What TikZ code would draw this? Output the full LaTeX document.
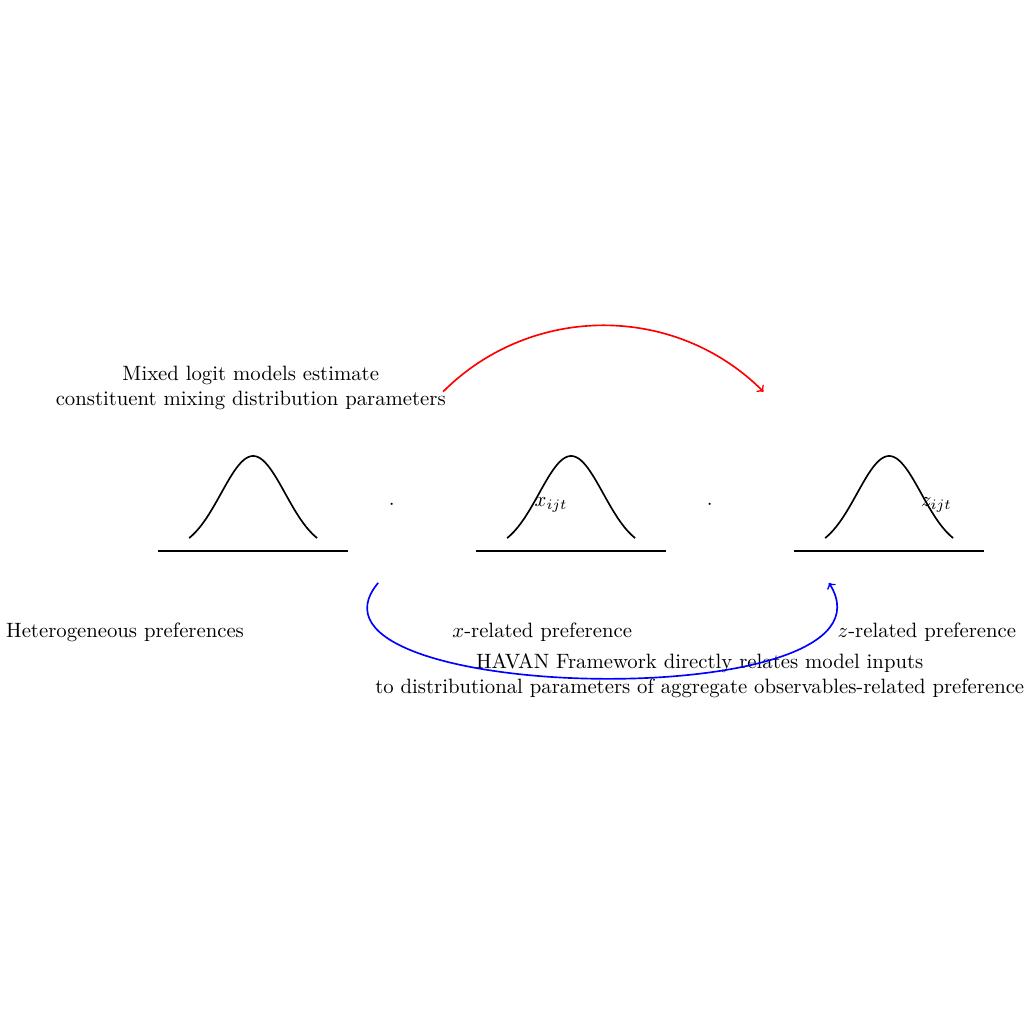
\documentclass[tikz,border=0pt]{standalone}
\usetikzlibrary{positioning, calc, arrows.meta}

\begin{document}
\begin{tikzpicture}[>=to]

% ------------------- styles -------------------
\tikzstyle{curve} = [thick, black, samples=60, smooth]
\tikzstyle{axisline} = [semithick, black]
\tikzstyle{label} = [align=center, inner sep=0]
\tikzstyle{redarrow} = [->, thick, red]
\tikzstyle{bluearrow} = [->, thick, blue]

\useasboundingbox (0,-8.017) rectangle (17.356,9.339);

% ------------------- three preference densities -------------------
\foreach \c in {4.29, 9.68, 15.07} {
  \draw[curve] plot[domain=-1.085:1.085] ({\c+\x}, {1.61*exp(-\x*\x/0.59)});
  \draw[axisline] (\c-1.61, 0) -- (\c+1.61, 0);
}

% product dots and variables
\node[inner sep=0] (dotA) at (6.64, 0.78) {$\cdot$};
\node[inner sep=0] (dotB) at (12.03, 0.78) {$\cdot$};
\node[inner sep=0] (xvar) at (9.34, 0.78) {$x_{ijt}$};
\node[inner sep=0] (zvar) at (15.87, 0.78) {$z_{ijt}$};

% labels under each density
\node[label] (hetlabel) at (2.12, -1.37) {Heterogeneous preferences};
\node[label] (xlabel) at (9.19, -1.37) {$x$-related preference};
\node[label] (zlabel) at (15.71, -1.37) {$z$-related preference};

% ------------------- mixed logit (top) -------------------
\node[label] (mixtext) at (4.25, 2.77) {Mixed logit models estimate\\constituent mixing distribution parameters};
\coordinate (redstart) at (7.51, 2.70);
\coordinate (redend) at (12.94, 2.70);
\draw[redarrow] (redstart) to[bend left=45] (redend);

% ------------------- HAVAN (bottom) -------------------
\node[label] (havantext) at (11.86, -2.12) {HAVAN Framework directly relates model inputs\\to distributional parameters of aggregate observables-related preference};
\coordinate (bluestart) at (6.41, -0.54);
\coordinate (blueend) at (14.05, -0.54);
\draw[bluearrow] (bluestart) to[out=-130, in=-58, looseness=0.9] (blueend);

\end{tikzpicture}
\end{document}
